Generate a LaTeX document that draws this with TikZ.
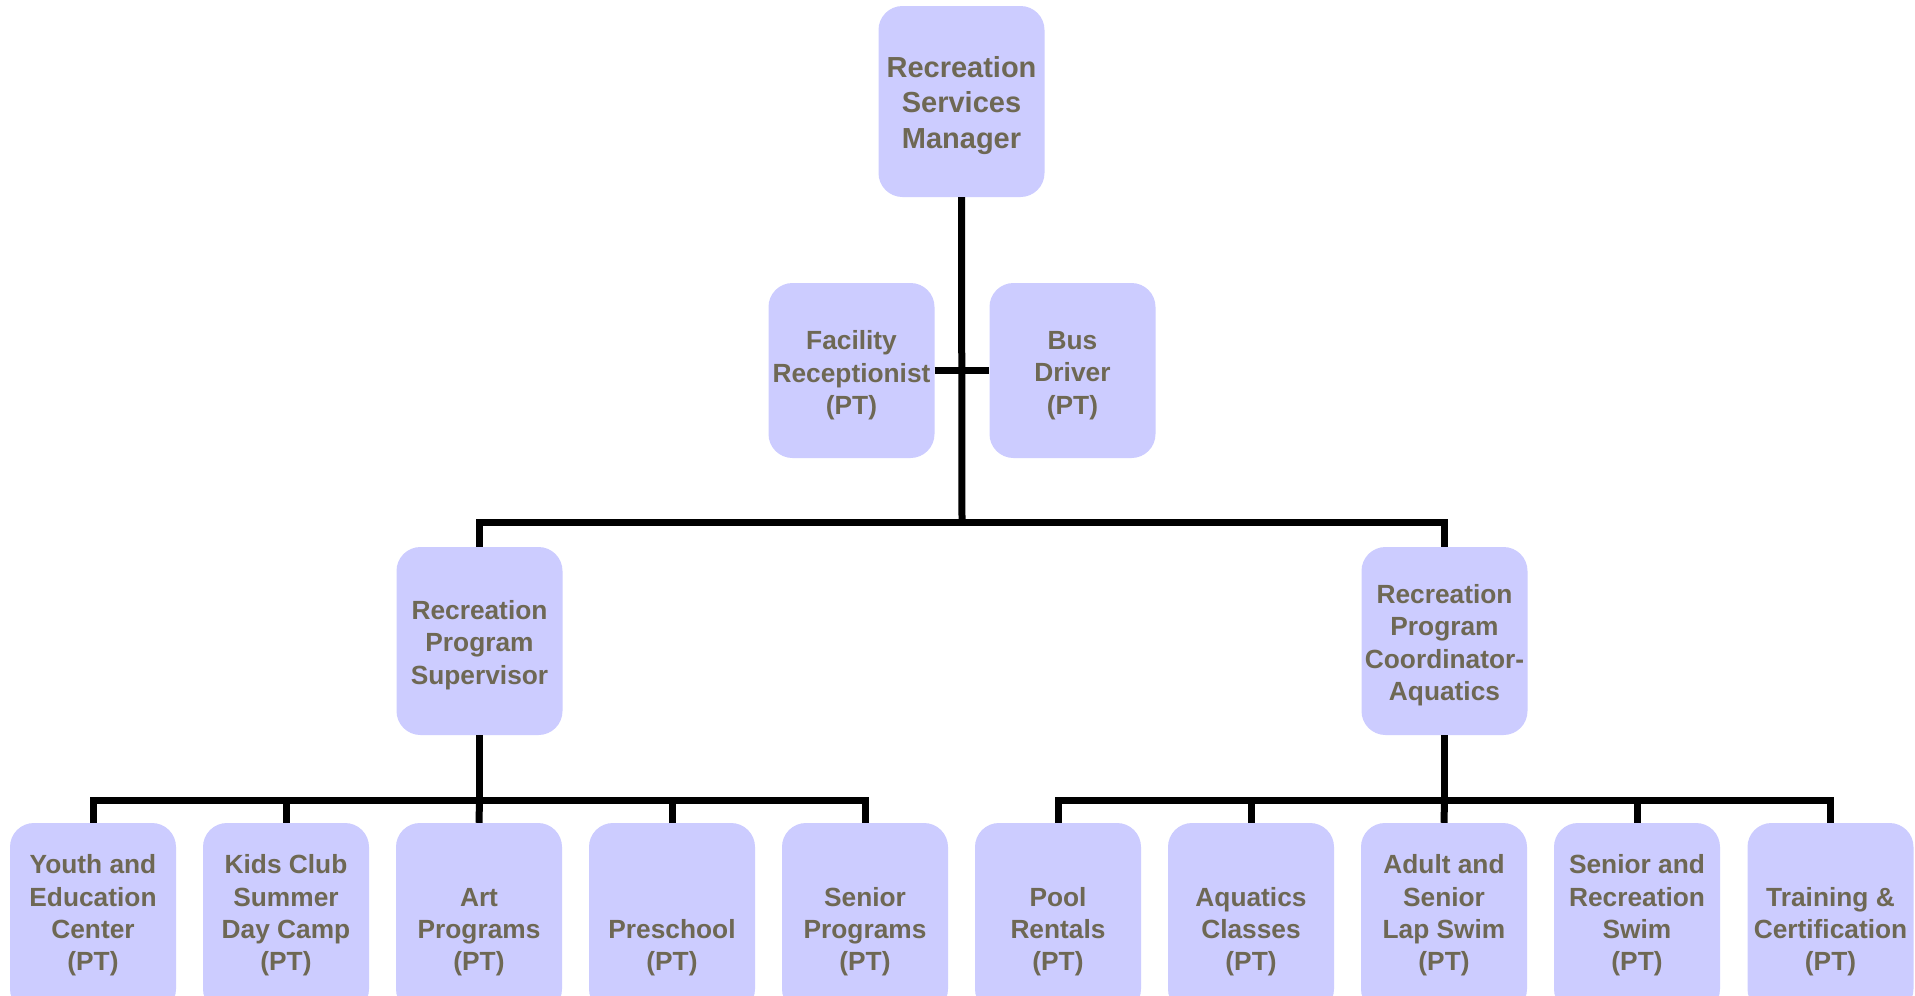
\documentclass[tikz,border=0pt]{standalone}
\usepackage{fontspec}
\setmainfont{Liberation Sans}
\definecolor{boxfill}{RGB}{204,204,255}
\definecolor{boxtext}{RGB}{110,104,84}
\begin{document}
\begin{tikzpicture}[x=1pt,y=-1pt,
  orgbox/.style={fill=boxfill,draw=none,rounded corners=24pt,inner sep=0pt,
    minimum width=166pt},
  orgtext/.style={text=boxtext,align=center,inner sep=0pt,
    font=\bfseries\fontsize{26.3}{32.4}\selectfont},
  orglabel/.style={orgtext,anchor=south},
  link/.style={draw=black,line width=7pt}]
\clip (0,0) rectangle (1915,996);
\fill[white] (0,0) rectangle (1915,996);

% top level
\node[orgbox,minimum height=191pt] (mgr) at (961.5,101.5) {};
\node[orgtext,font=\bfseries\fontsize{29}{35.4}\selectfont] (mgrt) at (961.5,105.5) {Recreation\\Services\\Manager};
\node[orgbox,minimum height=175pt] (fac) at (851.5,370.5) {};
\node[orgtext] (fact) at (851.5,375.5) {Facility\\Receptionist\\(PT)};
\node[orgbox,minimum height=175pt] (bus) at (1072.5,370.5) {};
\node[orgtext] (bust) at (1072.5,375.5) {Bus\\Driver\\(PT)};

% supervisors
\node[orgbox,minimum height=188pt] (sup) at (479.5,641) {};
\node[orgtext] (supt) at (479.5,645) {Recreation\\Program\\Supervisor};
\node[orgbox,minimum height=188pt] (coo) at (1444.5,641) {};
\node[orgtext] (coot) at (1444.5,645) {Recreation\\Program\\Coordinator-\\Aquatics};

% staff row (boxes run past the lower edge)
\foreach \i/\x in {1/93,2/286,3/479,4/672,5/865,6/1058,7/1251,8/1444,9/1637,10/1830.5}
  \node[orgbox,minimum height=190pt] (b\i) at (\x,918) {};

\node[orglabel] (t1) at (b1.center |- 0,976.5) {Youth and\\Education\\Center\\(PT)};
\node[orglabel] (t2) at (b2.center |- 0,976.5) {Kids Club\\Summer\\Day Camp\\(PT)};
\node[orglabel] (t3) at (b3.center |- 0,976.5) {Art\\Programs\\(PT)};
\node[orglabel] (t4) at (b4.center |- 0,976.5) {Preschool\\(PT)};
\node[orglabel] (t5) at (b5.center |- 0,976.5) {Senior\\Programs\\(PT)};
\node[orglabel] (t6) at (b6.center |- 0,976.5) {Pool\\Rentals\\(PT)};
\node[orglabel] (t7) at (b7.center |- 0,976.5) {Aquatics\\Classes\\(PT)};
\node[orglabel] (t8) at (b8.center |- 0,976.5) {Adult and\\Senior\\Lap Swim\\(PT)};
\node[orglabel] (t9) at (b9.center |- 0,976.5) {Senior and\\Recreation\\Swim\\(PT)};
\node[orglabel] (t10) at (b10.center |- 0,976.5) {Training \&\\Certification\\(PT)};

% junction points
\coordinate (hub) at (962,522);
\coordinate (lbus) at (479.5,800);
\coordinate (rbus) at (1444.5,800);

% connectors
\draw[link] (mgr.south) -- (hub);
\draw[link] (fac.east) -- (bus.west);
\draw[link] (sup.north) |- (hub) -| (coo.north);
\draw[link] (sup.south) -- (lbus);
\draw[link] (coo.south) -- (rbus);
\draw[link] (b1.north) |- (lbus) -| (b5.north);
\draw[link] (b2.north) -- (b2.north |- lbus);
\draw[link] (b3.north) -- (lbus);
\draw[link] (b4.north) -- (b4.north |- lbus);
\draw[link] (b6.north) |- (rbus) -| (b10.north);
\draw[link] (b7.north) -- (b7.north |- rbus);
\draw[link] (b8.north) -- (rbus);
\draw[link] (b9.north) -- (b9.north |- rbus);
\end{tikzpicture}
\end{document}
